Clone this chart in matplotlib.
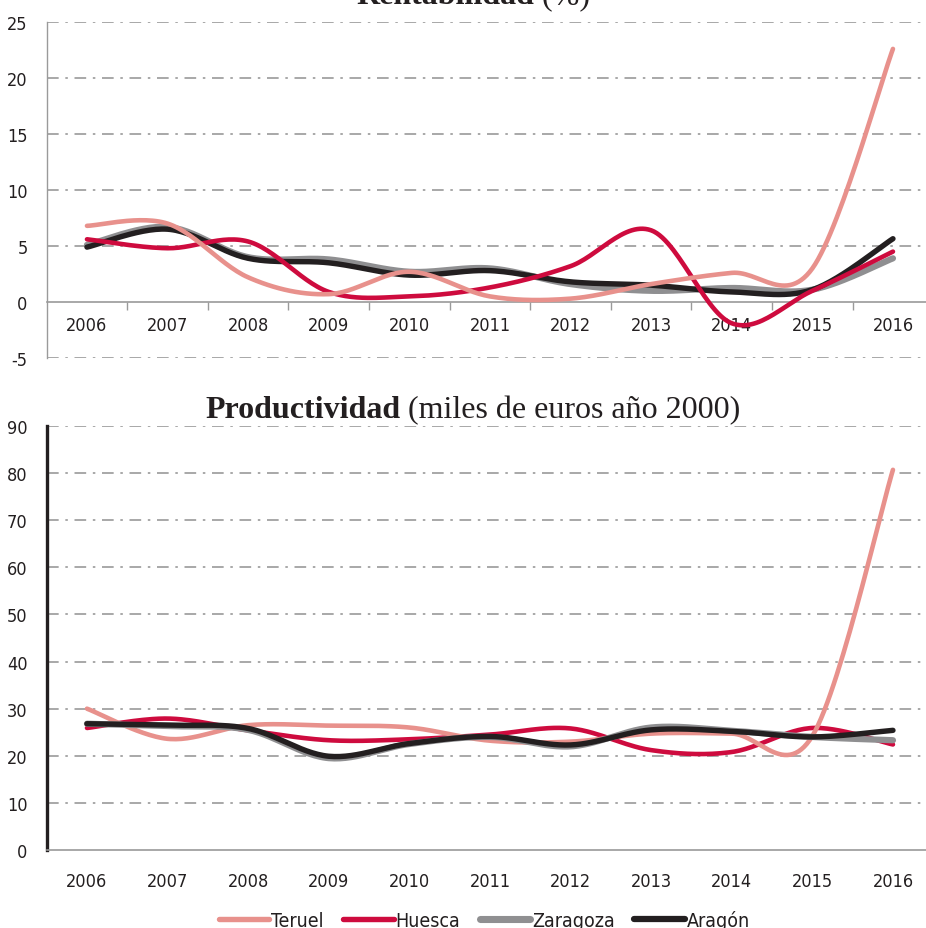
import matplotlib
matplotlib.use('Agg')
import matplotlib.pyplot as plt
import numpy as np
from matplotlib import font_manager

plt.rcParams['axes.unicode_minus'] = False

years = ['2006', '2007', '2008', '2009', '2010', '2011', '2012', '2013', '2014', '2015', '2016']

# Rentabilidad (%)
rent_teruel   = [6.8, 7.0, 2.2, 0.7, 2.7, 0.5, 0.3, 1.6, 2.6, 3.0, 22.6]
rent_huesca   = [5.6, 4.8, 5.4, 0.9, 0.5, 1.3, 3.2, 6.4, -1.9, 1.0, 4.5]
rent_zaragoza = [5.1, 6.7, 4.0, 3.8, 2.7, 3.0, 1.6, 1.0, 1.25, 1.1, 3.9]
rent_aragon   = [4.9, 6.5, 3.9, 3.5, 2.4, 2.8, 1.8, 1.5, 0.9, 1.1, 5.65]

# Productividad (miles de euros año 2000)
prod_teruel   = [30.0, 23.6, 26.5, 26.4, 26.0, 23.2, 23.0, 24.7, 24.7, 24.2, 80.7]
prod_huesca   = [25.9, 27.9, 25.4, 23.3, 23.5, 24.5, 25.8, 21.2, 20.8, 25.9, 22.4]
prod_zaragoza = [26.8, 26.3, 25.5, 19.5, 22.5, 24.0, 22.0, 26.0, 25.3, 24.0, 23.3]
prod_aragon   = [26.8, 26.5, 25.8, 19.9, 22.6, 24.1, 22.3, 25.5, 25.2, 24.0, 25.4]

names = ['Teruel', 'Huesca', 'Zaragoza', 'Aragón']
colors = ['#E8918C', '#CE0B3E', '#8F8F91', '#231F20']
widths = [3.3, 3.3, 4.5, 3.9]

# pick a condensed sans for the tick labels
avail = {f.name for f in font_manager.fontManager.ttflist}
if 'Liberation Sans Narrow' in avail:
    tick_font = dict(family='Liberation Sans Narrow')
else:
    tick_font = dict(family='DejaVu Sans', stretch='condensed')
serif = 'Liberation Serif'
text_col = '#231F20'


def smooth(y, n=30):
    # Excel style smoothed line (cubic bezier through every point)
    y = np.asarray(y, float)
    x = np.arange(len(y), dtype=float)
    pts = np.column_stack([x, y])
    ext = np.vstack([pts[0], pts, pts[-1]])
    out = []
    t = np.linspace(0, 1, n)[:, None]
    for i in range(len(pts) - 1):
        p0, p3 = ext[i + 1], ext[i + 2]
        p1 = p0 + (ext[i + 2] - ext[i]) / 6
        p2 = p3 - (ext[i + 3] - ext[i + 1]) / 6
        seg = (1 - t) ** 3 * p0 + 3 * (1 - t) ** 2 * t * p1 + 3 * (1 - t) * t ** 2 * p2 + t ** 3 * p3
        out.append(seg if i == 0 else seg[1:])
    out = np.vstack(out)
    return out[:, 0], out[:, 1]


fig = plt.figure(figsize=(9.26, 9.29), dpi=100)
W, H = 926, 929
ax1 = fig.add_axes([47 / W, 1 - 359 / H, (W - 47) / W, 336 / H])
ax2 = fig.add_axes([47 / W, 1 - 851 / H, (W - 47) / W, 424 / H])

grid_style = dict(color='#9A9A9A', linewidth=1.2, linestyle=(0, (7, 4, 1.5, 4)))
xlim = (-0.496, 10.41)

# top chart
series1 = [rent_teruel, rent_huesca, rent_zaragoza, rent_aragon]
z1 = [5, 4, 2, 3]
for s, c, lw, z in zip(series1, colors, widths, z1):
    xs, ys = smooth(s)
    ax1.plot(xs, ys, color=c, lw=lw, solid_capstyle='round', zorder=z)
ax1.set_xlim(*xlim)
ax1.set_ylim(-5, 25)
ax1.set_yticks([-5, 0, 5, 10, 15, 20, 25])
for v in [-5, 5, 10, 15, 20, 25]:
    ax1.axhline(v, zorder=0, **grid_style)
ax1.spines['top'].set_visible(False)
ax1.spines['right'].set_visible(False)
ax1.spines['left'].set_color('#9A9A9A')
ax1.spines['left'].set_linewidth(1.0)
ax1.spines['bottom'].set_position(('data', 0))
ax1.spines['bottom'].set_color('#9A9A9A')
ax1.spines['bottom'].set_linewidth(1.2)
ax1.set_xticks(range(len(years)))
ax1.set_xticklabels(years)
ax1.set_xticks(np.arange(0.5, 10, 1), minor=True)
ax1.tick_params(axis='x', which='major', length=0, pad=10)
ax1.tick_params(axis='x', which='minor', length=6, width=1, color='#9A9A9A', direction='out')
ax1.tick_params(axis='y', length=0, pad=14)

# bottom chart
series2 = [prod_teruel, prod_huesca, prod_zaragoza, prod_aragon]
z2 = [3, 2, 4, 5]
for s, c, lw, z in zip(series2, colors, widths, z2):
    xs, ys = smooth(s)
    ax2.plot(xs, ys, color=c, lw=lw, solid_capstyle='round', zorder=z)
ax2.set_xlim(*xlim)
ax2.set_ylim(0, 90)
ax2.set_yticks(range(0, 91, 10))
for v in range(10, 91, 10):
    ax2.axhline(v, zorder=0, **grid_style)
ax2.spines['top'].set_visible(False)
ax2.spines['right'].set_visible(False)
ax2.spines['left'].set_color('#231F20')
ax2.spines['left'].set_linewidth(2.4)
ax2.spines['bottom'].set_color('#9A9A9A')
ax2.spines['bottom'].set_linewidth(1.2)
ax2.set_xticks(range(len(years)))
ax2.set_xticklabels(years)
ax2.tick_params(axis='x', length=0, pad=16)
ax2.tick_params(axis='y', length=0, pad=14)

for ax in (ax1, ax2):
    for lab in ax.get_xticklabels() + ax.get_yticklabels():
        lab.set_fontsize(13)
        lab.set_color(text_col)
        lab.set_fontfamily(tick_font['family'])
        if 'stretch' in tick_font:
            lab.set_fontstretch(tick_font['stretch'])
    ax.patch.set_visible(False)


def two_part_title(y_px, bold, rest, center_px=473, size=23):
    r = fig.canvas.get_renderer()
    t1 = fig.text(0, 1 - y_px / H, bold, fontsize=size, fontweight='bold',
                  family=serif, color=text_col, va='baseline')
    t2 = fig.text(0, 1 - y_px / H, rest, fontsize=size, family=serif,
                  color=text_col, va='baseline')
    w1 = t1.get_window_extent(r).width
    w2 = t2.get_window_extent(r).width
    x0 = center_px - (w1 + w2) / 2
    t1.set_x(x0 / W)
    t2.set_x((x0 + w1) / W)


two_part_title(4, 'Rentabilidad', ' (%)')
two_part_title(418, 'Productividad', ' (miles de euros año 2000)')

# legend
handles = [plt.Line2D([], [], color=c, lw=lw + 0.6, solid_capstyle='round') for c, lw in zip(colors, widths)]
leg = fig.legend(handles, names, loc='center', bbox_to_anchor=(0.523, 1 - 921 / H), ncol=4,
                 frameon=False, handlelength=2.6, handletextpad=0.1, columnspacing=1.0,
                 prop=dict(size=14, **tick_font))
for t in leg.get_texts():
    t.set_color(text_col)

fig.savefig('out.png', dpi=100)
